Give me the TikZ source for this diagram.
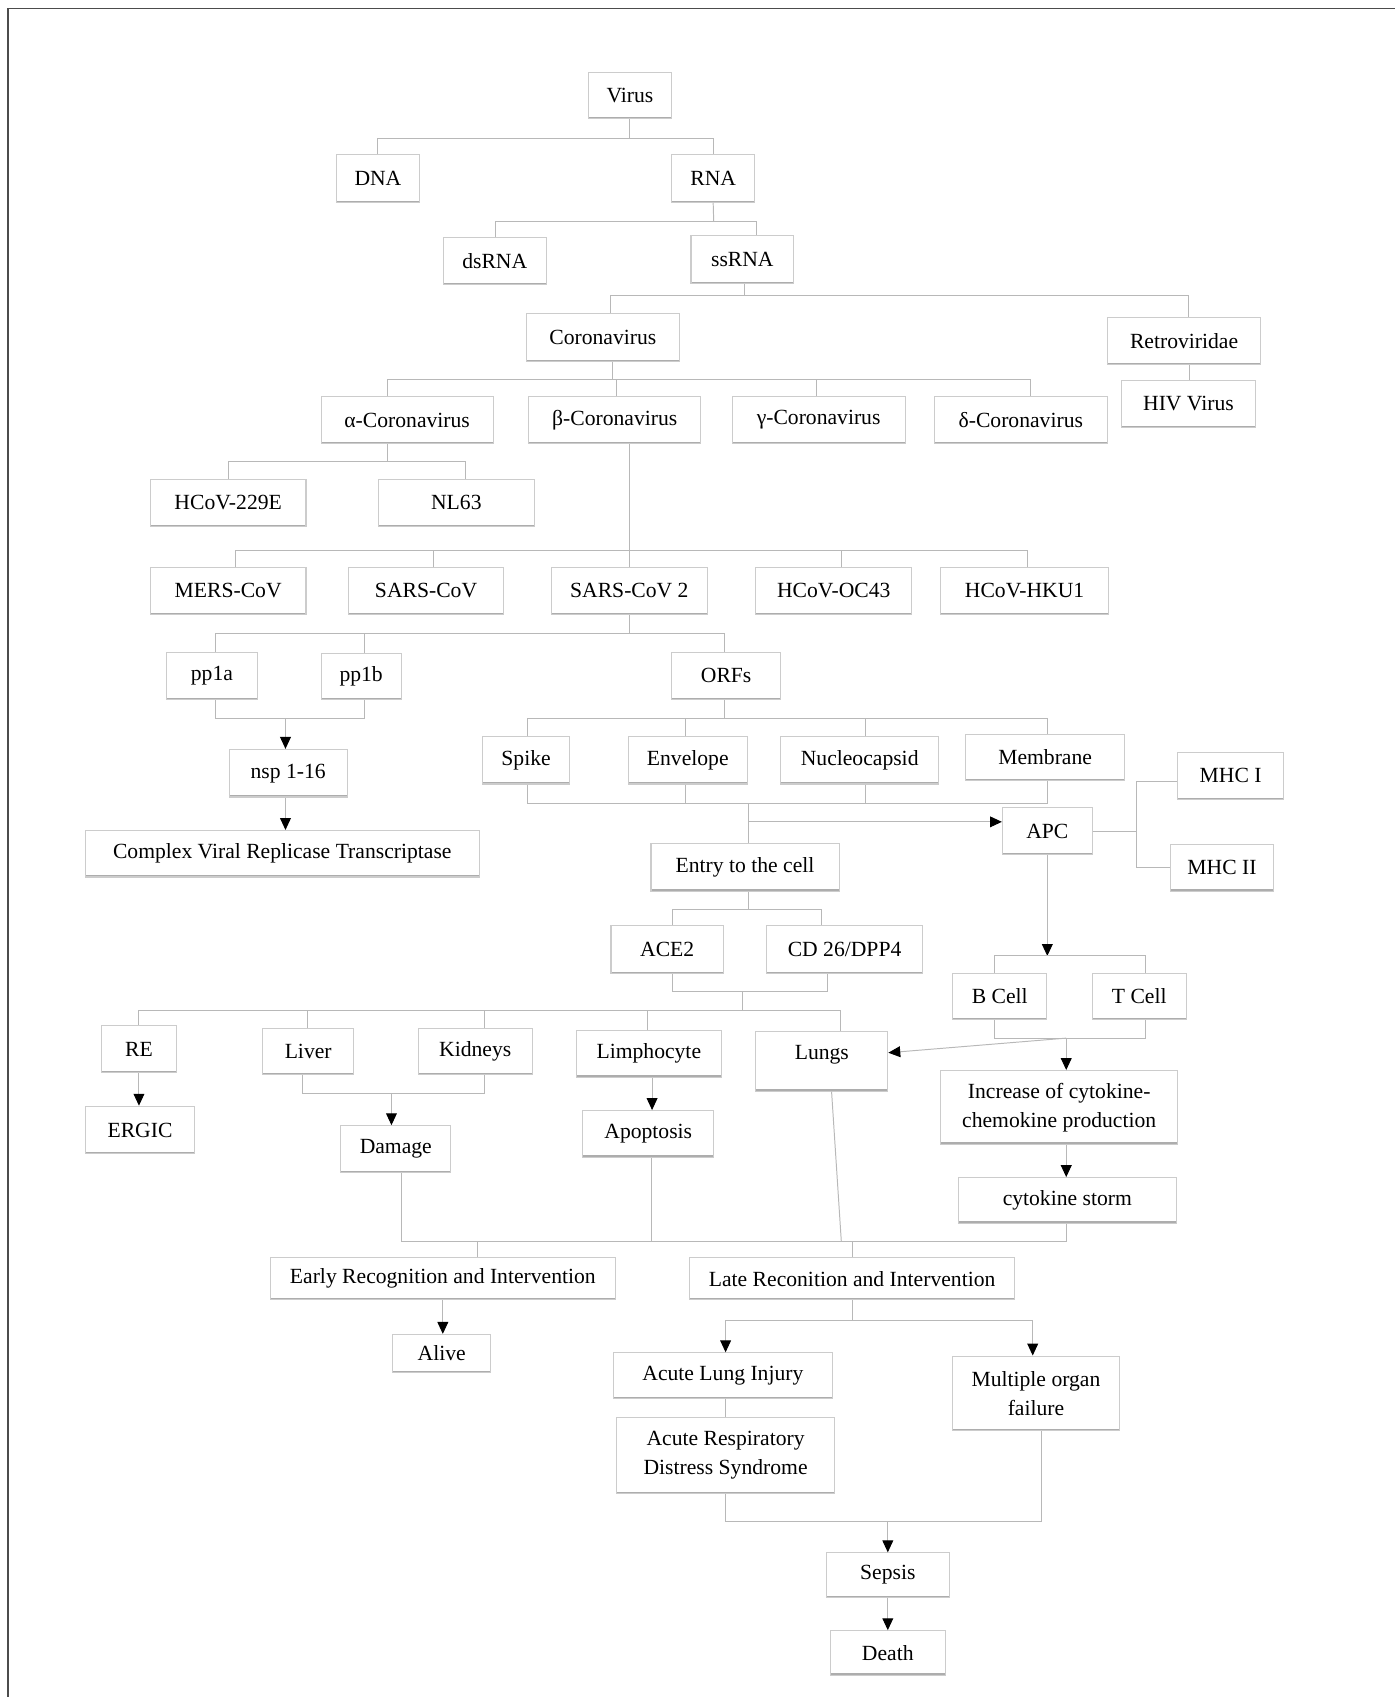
\documentclass[tikz,border=0pt]{standalone}
\usepackage{fontspec}
\setmainfont{Liberation Serif}
\usetikzlibrary{arrows.meta}
\newcommand\fsz{\fontsize{20}{27}\selectfont}
\newcommand\bxn[6]{\node[bx,minimum width=#4pt,minimum height=#5pt] (#1) at (#2,#3) {#6};}
\begin{document}
\begin{tikzpicture}[x=1pt,y=-1pt,
  bx/.style={draw=black!20, line width=1pt, inner sep=0pt, align=center, font=\fsz,
    path picture={\draw[black!32,line width=3pt] (path picture bounding box.south west) -- (path picture bounding box.south east);}},
  ln/.style={draw=black!28, line width=0.9pt},
  arr/.style={ln, -{Triangle[length=11pt,width=10pt,color=black]}}]
\useasboundingbox (0,0) rectangle (1290,1569.3);
\draw[black!70,line width=1.3pt] (7.5,1569.3) -- (7.5,8) -- (1290,8);
% nodes
\bxn{virus}{582.5}{88.5}{77}{43}{Virus}
\bxn{dna}{349.5}{165}{77}{44}{DNA}
\bxn{rna}{659.5}{165}{77}{44}{RNA}
\bxn{dsrna}{457.5}{241.5}{95}{43}{dsRNA}
\bxn{ssrna}{686.5}{240}{95}{44}{ssRNA}
\bxn{corona}{557.5}{312}{141}{44}{Coronavirus}
\bxn{retro}{1095}{315.5}{142}{43}{Retroviridae}
\bxn{hiv}{1099}{373.5}{124}{43}{HIV Virus}
\bxn{alpha}{376.5}{388.5}{159}{43}{α-Coronavirus}
\bxn{beta}{568.5}{388.5}{159}{43}{β-Coronavirus}
\bxn{gamma}{757}{388.5}{160}{43}{γ-Coronavirus}
\bxn{delta}{944}{388.5}{160}{43}{δ-Coronavirus}
\bxn{hcov229}{211}{465}{144}{44}{HCoV-229E}
\bxn{nl63}{422}{465}{144}{44}{NL63}
\bxn{mers}{211}{546.5}{144}{43}{MERS-CoV}
\bxn{sars}{394}{546.5}{144}{43}{SARS-CoV}
\bxn{sars2}{582}{546.5}{144}{43}{SARS-CoV 2}
\bxn{oc43}{771}{546.5}{144}{43}{HCoV-OC43}
\bxn{hku1}{947.5}{546.5}{155}{43}{HCoV-HKU1}
\bxn{pp1a}{196}{625}{84}{44}{pp1a}
\bxn{pp1b}{334}{625.5}{74}{43}{pp1b}
\bxn{orfs}{671.5}{625}{101}{44}{ORFs}
\bxn{nsp}{266.5}{715}{109}{44}{nsp 1-16}
\bxn{cvrt}{261}{789.5}{364}{43}{Complex Viral Replicase Transcriptase}
\bxn{spike}{486.5}{703}{81}{44}{Spike}
\bxn{envelope}{636}{703}{110}{44}{Envelope}
\bxn{nucleo}{795}{703}{146}{44}{Nucleocapsid}
\bxn{membrane}{966.5}{700.5}{147}{43}{Membrane}
\bxn{mhc1}{1138}{717.5}{98}{43}{MHC I}
\bxn{apc}{968.5}{768.5}{83}{43}{APC}
\bxn{mhc2}{1130}{802.5}{96}{43}{MHC II}
\bxn{entry}{689}{802}{174}{44}{Entry to the cell}
\bxn{ace2}{617}{878}{104}{44}{ACE2}
\bxn{cd26}{781}{878}{144}{44}{CD 26/DPP4}
\bxn{bcell}{924.5}{921.5}{87}{43}{B Cell}
\bxn{tcell}{1053.5}{921.5}{87}{43}{T Cell}
\bxn{re}{128.5}{970}{69}{44}{RE}
\bxn{liver}{285}{972.5}{84}{43}{Liver}
\bxn{kidneys}{439.5}{972.5}{105}{43}{Kidneys}
\bxn{limpho}{600}{974.5}{134}{43}{Limphocyte}
\node[bx,minimum width=122pt,minimum height=55pt,text height=14pt,text depth=18pt] (lungs) at (760,981.5) {Lungs};
\bxn{increase}{979.5}{1024}{219}{68}{Increase of cytokine-\\chemokine production}
\bxn{ergic}{129.5}{1045}{101}{44}{ERGIC}
\bxn{damage}{366}{1062.5}{102}{43}{Damage}
\bxn{apoptosis}{599.5}{1048.5}{121}{43}{Apoptosis}
\bxn{storm}{987}{1110}{202}{42}{cytokine storm}
\bxn{early}{409.5}{1182.5}{319}{39}{Early Recognition and Intervention}
\bxn{late}{788}{1182.5}{300}{39}{Late Reconition and Intervention}
\bxn{alive}{408.5}{1251.5}{91}{35}{Alive}
\bxn{ali}{668.5}{1272}{203}{42}{Acute Lung Injury}
\bxn{mof}{958}{1288.5}{154}{69}{Multiple organ\\failure}
\bxn{ards}{671}{1346}{202}{70}{Acute Respiratory\\Distress Syndrome}
\bxn{sepsis}{821}{1456.5}{114}{41}{Sepsis}
\bxn{death}{821}{1528.5}{106}{41}{Death}
% junctions
\coordinate (j1) at (582.5,128);
\coordinate (j2) at (660,205);
\coordinate (j3) at (688,273);
\coordinate (j4) at (566,351);
\coordinate (j5) at (358,427);
\coordinate (j6) at (582,509);
\coordinate (j7) at (582,586);
\coordinate (j8) at (264,664);
\coordinate (j9) at (670,664);
\coordinate (j10) at (692,743);
\coordinate (j11) at (692,760);
\coordinate (j12) at (1051,768.5);
\coordinate (j13) at (968.5,884);
\coordinate (j14) at (692,841);
\coordinate (j15) at (687,917);
\coordinate (j16) at (687,934);
\coordinate (j17) at (362,1011);
\coordinate (j18) at (986,960);
\coordinate (j19) at (442,1148);
\coordinate (j20) at (788,1148);
\coordinate (j21) at (778,1148);
\coordinate (j22) at (788,1221);
\coordinate (j23) at (821,1407);
% connectors
\draw[ln] (virus.south) -- (j1);
\draw[ln] (dna.north) |- (j1) -| (rna.north);
\draw[ln] (rna.south) -- (j2);
\draw[ln] ([xshift=0.5pt]dsrna.north) |- (j2) -| ([xshift=13.5pt]ssrna.north);
\draw[ln] ([xshift=1.5pt]ssrna.south) -- (j3);
\draw[ln] ([xshift=7.5pt]corona.north) |- (j3) -| ([xshift=4pt]retro.north);
\draw[ln] ([xshift=5pt]retro.south) -- ([xshift=1pt]hiv.north);
\draw[ln] ([xshift=8.5pt]corona.south) -- (j4);
\draw[ln] ([xshift=-18.5pt]alpha.north) |- (j4) -| ([xshift=9pt]delta.north);
\draw[ln] ([xshift=1.5pt]beta.north) |- (j4);
\draw[ln] ([xshift=-2pt]gamma.north) |- (j4);
\draw[ln] ([xshift=-18.5pt]alpha.south) -- (j5);
\draw[ln] (hcov229.north) |- (j5) -| ([xshift=8pt]nl63.north);
\draw[ln] ([xshift=13.5pt]beta.south) -- (sars2.north);
\draw[ln] ([xshift=7pt]mers.north) |- (j6) -| ([xshift=2.5pt]hku1.north);
\draw[ln] ([xshift=7pt]sars.north) |- (j6);
\draw[ln] ([xshift=7pt]oc43.north) |- (j6);
\draw[ln] (sars2.south) -- (j7);
\draw[ln] ([xshift=3pt]pp1a.north) |- (j7) -| ([xshift=-1.5pt]orfs.north);
\draw[ln] ([xshift=3pt]pp1b.north) |- (j7);
\draw[ln] ([xshift=3pt]pp1a.south) |- (j8);
\draw[ln] ([xshift=3pt]pp1b.south) |- (j8);
\draw[arr] (j8) -- ([xshift=-2.5pt]nsp.north);
\draw[arr] ([xshift=-2.5pt]nsp.south) -- ([xshift=3pt]cvrt.north);
\draw[ln] ([xshift=-1.5pt]orfs.south) -- (j9);
\draw[ln] ([xshift=1.5pt]spike.north) |- (j9) -| ([xshift=2.5pt]membrane.north);
\draw[ln] ([xshift=-2pt]envelope.north) |- (j9);
\draw[ln] ([xshift=5pt]nucleo.north) |- (j9);
\draw[ln] ([xshift=1.5pt]spike.south) |- (j10);
\draw[ln] ([xshift=2.5pt]membrane.south) |- (j10);
\draw[ln] ([xshift=-2pt]envelope.south) |- (j10);
\draw[ln] ([xshift=5pt]nucleo.south) |- (j10);
\draw[ln] (j10) -- ([xshift=3pt]entry.north);
\draw[arr] (j11) -- (apc.west |- j11);
\draw[ln] (apc.east) -- (j12);
\draw[ln] ([yshift=-5.5pt]mhc1.west) -| (j12);
\draw[ln] ([yshift=0.5pt]mhc2.west) -| (j12);
\draw[arr] (apc.south) -- (j13);
\draw[ln] ([xshift=-4.5pt]bcell.north) |- (j13) -| ([xshift=5.5pt]tcell.north);
\draw[ln] ([xshift=3pt]entry.south) -- (j14);
\draw[ln] ([xshift=5pt]ace2.north) |- (j14) -| ([xshift=-21pt]cd26.north);
\draw[ln] ([xshift=5pt]ace2.south) |- (j15);
\draw[ln] ([xshift=-16pt]cd26.south) |- (j15);
\draw[ln] (j15) -- (j16);
\draw[ln] ([xshift=-0.5pt]re.north) |- (j16) -| ([xshift=17pt]lungs.north);
\draw[ln] ([xshift=-1pt]liver.north) |- (j16);
\draw[ln] ([xshift=8.5pt]kidneys.north) |- (j16);
\draw[ln] ([xshift=-1pt]limpho.north) |- (j16);
\draw[arr] (re.south) -- (re.south |- ergic.north);
\draw[ln] ([xshift=-5pt]liver.south) |- (j17);
\draw[ln] ([xshift=8.5pt]kidneys.south) |- (j17);
\draw[arr] (j17) -- ([xshift=-4pt]damage.north);
\draw[arr] ([xshift=3pt]limpho.south) -- ([xshift=3.5pt]apoptosis.north);
\draw[ln] ([xshift=-4.5pt]bcell.south) |- (j18);
\draw[ln] ([xshift=5.5pt]tcell.south) |- (j18);
\draw[arr] (j18) -- ([yshift=8pt]lungs.east);
\draw[arr] (j18) -- ([xshift=6.5pt]increase.north);
\draw[arr] ([xshift=6.5pt]increase.south) -- ([xshift=-1pt]storm.north);
\draw[ln] ([xshift=5pt]damage.south) |- (j19);
\draw[ln] ([xshift=2.5pt]apoptosis.south) |- (j19);
\draw[ln] ([xshift=-1pt]storm.south) |- (j20);
\draw[ln] (j19) -- (j20);
\draw[ln] ([xshift=9pt]lungs.south) -- (j21);
\draw[ln] (j19) -- ([xshift=32.5pt]early.north);
\draw[ln] (j20) -- (late.north);
\draw[arr] (early.south) -- (early.south |- alive.north);
\draw[ln] (late.south) -- (j22);
\draw[arr] (j22) -| ([xshift=2.5pt]ali.north);
\draw[arr] (j22) -| ([xshift=-3pt]mof.north);
\draw[ln] ([xshift=2.5pt]ali.south) -- (ards.north);
\draw[ln] (ards.south) |- (j23);
\draw[ln] ([xshift=5pt]mof.south) |- (j23);
\draw[arr] (j23) -- (sepsis.north);
\draw[arr] (sepsis) -- (death);
\end{tikzpicture}
\end{document}
